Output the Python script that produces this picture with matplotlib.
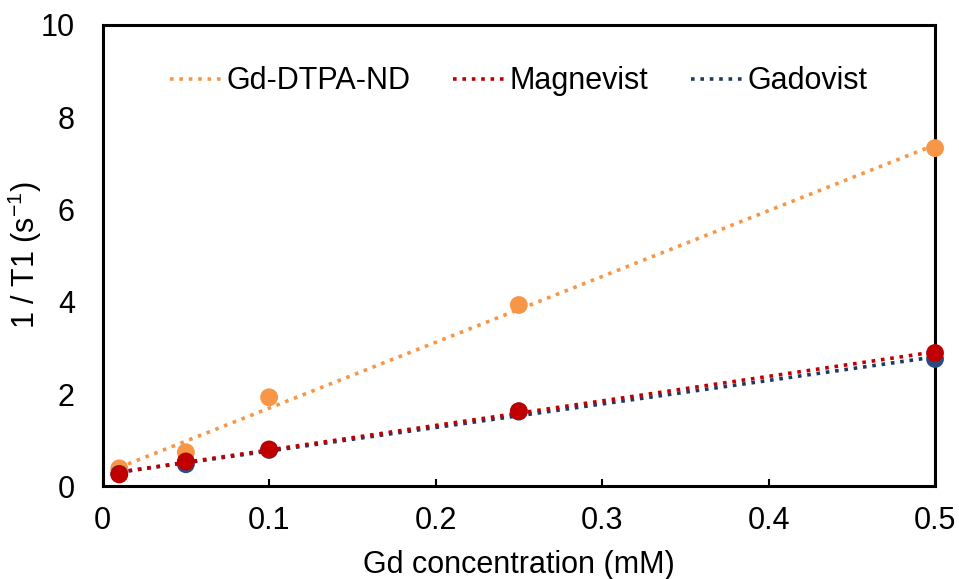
import numpy as np
import matplotlib
matplotlib.use("Agg")
import matplotlib.pyplot as plt

plt.rcParams["font.family"] = ["Liberation Sans", "DejaVu Sans"]
plt.rcParams["mathtext.default"] = "regular"

# data
conc = [0.01, 0.05, 0.1, 0.25, 0.5]
gd_dtpa_nd = [0.39, 0.74, 1.93, 3.93, 7.33]
magnevist = [0.26, 0.54, 0.80, 1.63, 2.89]
gadovist = [0.27, 0.48, 0.79, 1.62, 2.76]

names = ["Gd-DTPA-ND", "Magnevist", "Gadovist"]
line_colors = ["#F79646", "#C00000", "#1F3864"]
dot_colors = ["#F79646", "#C00000", "#2B4C7E"]
zorders = [3, 5, 4]

fig, ax = plt.subplots(figsize=(9.59, 5.79), dpi=100)
fig.subplots_adjust(left=0.107, right=0.975, top=0.957, bottom=0.16)

x = np.array(conc)
for name, ys, lc, dc, z in zip(names, [gd_dtpa_nd, magnevist, gadovist],
                               line_colors, dot_colors, zorders):
    k, b = np.polyfit(x, ys, 1)
    xs = np.array([x.min(), x.max()])
    ax.plot(xs, k * xs + b, linestyle=(0, (1, 1.6)), color=lc, lw=2.6,
            label=name, zorder=z)
    ax.scatter(x, ys, s=165, color=dc, zorder=z + 3, edgecolors="none",
               clip_on=False)

ax.set_xlim(0, 0.5)
ax.set_ylim(0, 10)
ax.set_xticks([0, 0.1, 0.2, 0.3, 0.4, 0.5])
ax.set_xticklabels(["0", "0.1", "0.2", "0.3", "0.4", "0.5"])
ax.set_yticks([0, 2, 4, 6, 8, 10])
ax.tick_params(axis="x", direction="in", length=5, width=1.5, labelsize=22, pad=14)
ax.tick_params(axis="y", length=0, labelsize=22, pad=20)
for sp in ax.spines.values():
    sp.set_linewidth(2.2)

ax.set_xlabel("Gd concentration (mM)", fontsize=22, labelpad=10)
ax.set_ylabel("1 / T1 (s$^{-1}$)", fontsize=22)
ax.yaxis.set_label_coords(-0.07, 0.5)

ax.legend(loc="upper center", ncol=3, frameon=False, fontsize=22,
          handlelength=1.8, handletextpad=0.05, columnspacing=1.4,
          bbox_to_anchor=(0.5, 0.97))

fig.savefig("out.png", dpi=100)
